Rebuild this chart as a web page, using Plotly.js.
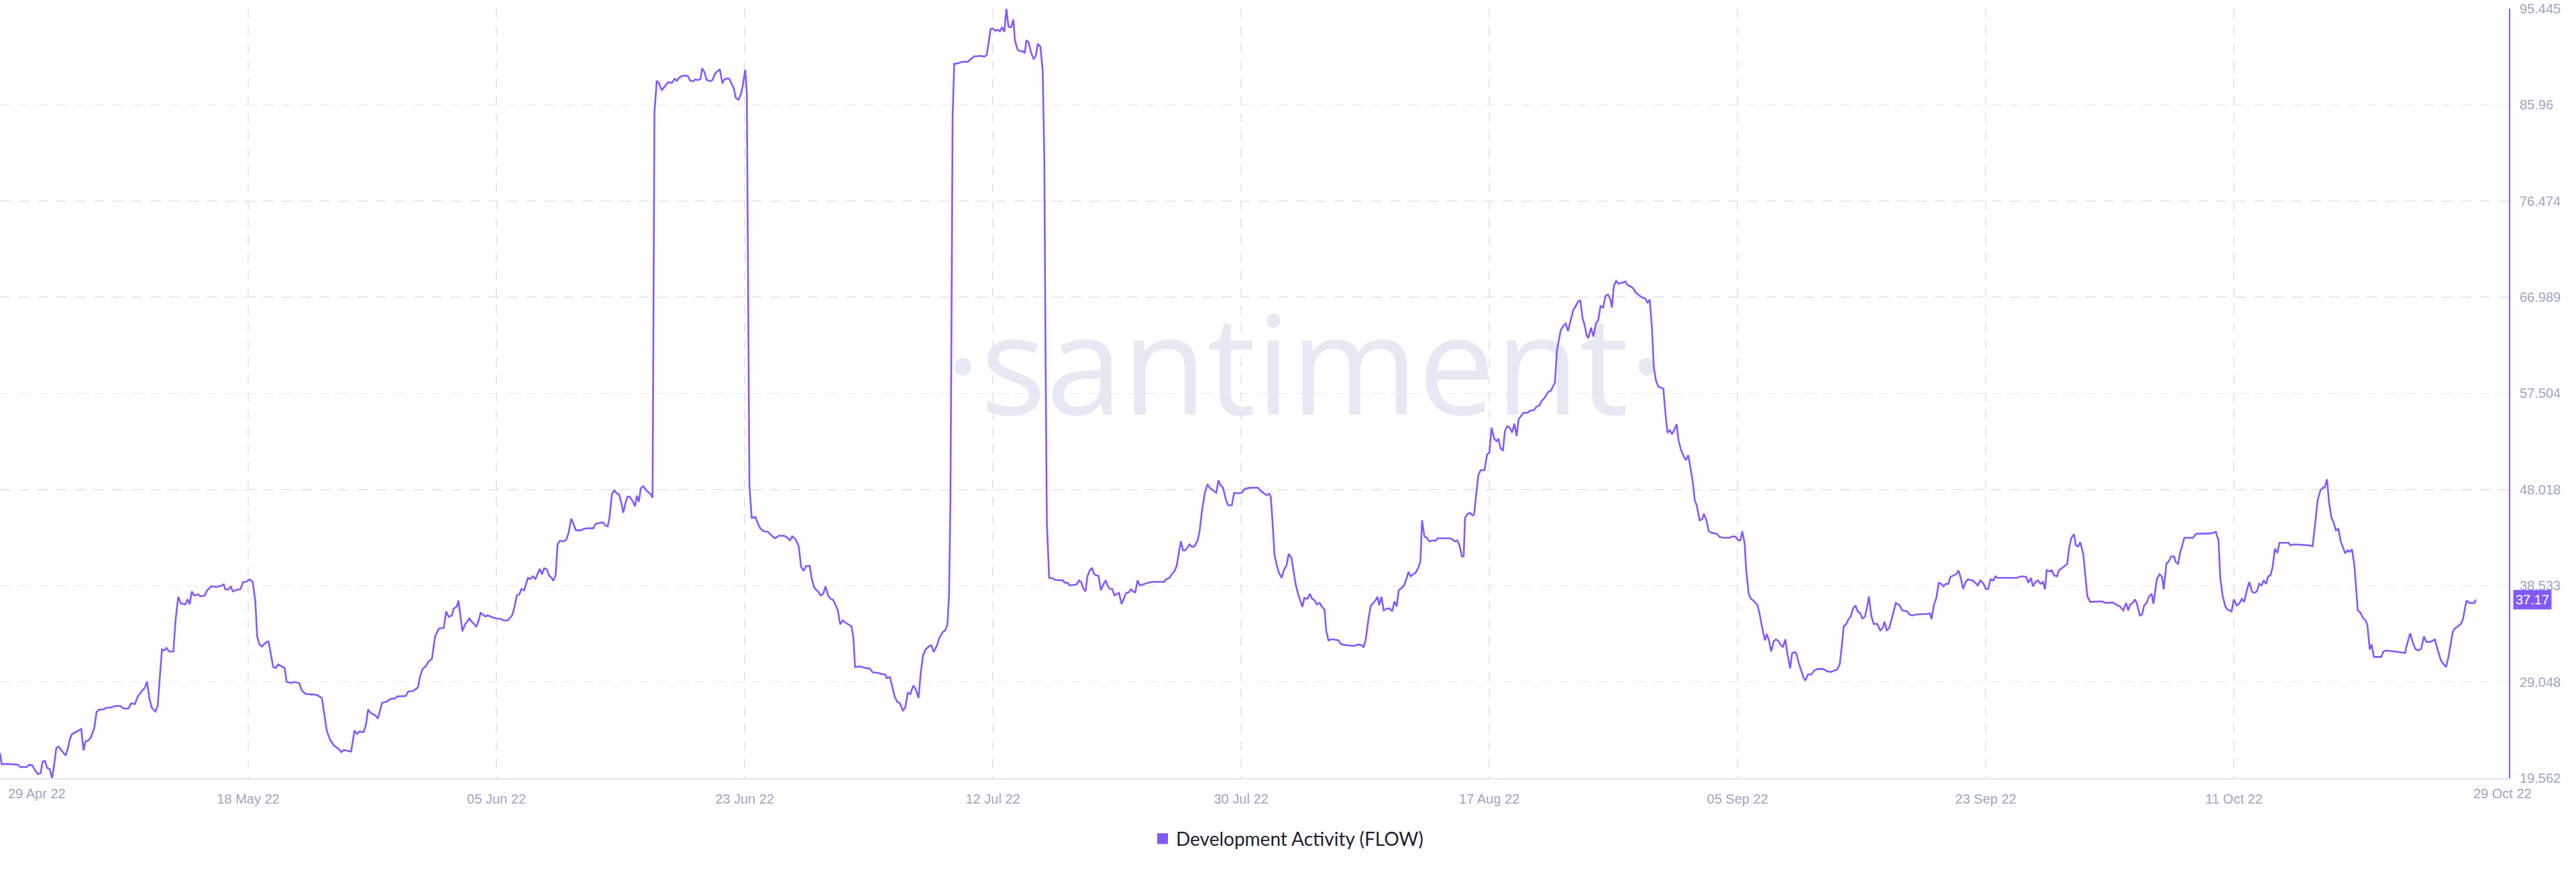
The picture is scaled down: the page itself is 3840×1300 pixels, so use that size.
<!DOCTYPE html>
<html>
<head>
<meta charset="utf-8">
<script src="https://cdn.plot.ly/plotly-3.0.1.min.js"></script>
<style>
  html, body { margin: 0; padding: 0; background: #ffffff; }
  #chart { width: 3840px; height: 1300px; }
</style>
</head>
<body>
<div id="chart"></div>
<script>
// ---------------- DATA ----------------
// Days since 29 Apr 2022 (00:00 UTC)
const dayOffsets = [
  0,0.12,0.72,1.32,1.49,1.97,2.16,2.40,2.59,2.80,3.00,3.14,3.31,3.48,3.67,3.84,3.96,4.15,4.32,4.55,
  4.84,4.99,5.15,5.32,5.63,5.99,6.16,6.30,6.52,6.71,6.95,7.12,7.31,7.62,7.79,8.15,8.51,8.87,9.11,9.47,
  9.66,9.95,10.16,10.43,10.67,10.84,11.03,11.20,11.46,11.63,11.75,11.94,12.11,12.27,12.47,12.78,12.95,13.14,13.33,13.66,
  13.83,13.98,14.14,14.31,14.62,14.79,15.10,15.27,15.58,15.94,16.30,16.49,16.61,16.85,17.02,17.16,17.38,17.74,17.93,18.15,
  18.41,18.63,18.82,18.96,19.13,19.30,19.66,19.80,20.14,20.33,20.50,20.74,20.98,21.14,21.46,21.70,22.06,22.25,22.53,23.01,
  23.37,23.73,24.09,24.33,24.62,24.93,25.17,25.34,25.58,25.89,26.13,26.32,26.49,26.80,26.97,27.14,27.33,27.69,27.86,28.17,
  28.53,28.77,29.13,29.29,29.92,30.09,30.45,30.81,30.97,31.16,31.40,31.60,31.84,32.08,32.36,32.72,32.89,33.08,33.32,33.44,
  33.68,33.80,34.09,34.28,34.52,34.59,34.76,35.12,35.29,35.43,35.77,35.96,36.32,
  36.60,36.96,37.13,37.44,37.75,37.92,38.11,38.28,38.45,38.64,38.92,39.12,39.28,39.48,39.79,39.96,40.12,40.31,40.48,40.67,
  40.79,40.96,41.11,41.27,41.51,41.75,41.92,42.11,42.30,42.47,42.83,43.07,43.31,43.74,43.91,44.27,44.46,44.63,44.80,44.94,
  45.11,45.28,45.47,45.64,45.83,45.95,46.12,46.26,46.43,46.67,46.81,46.96,47.10,47.24,47.44,47.63,47.82,47.99,48.11,48.25,
  48.42,48.59,48.78,49.07,49.26,49.54,49.74,49.90,50.10,50.31,50.70,50.89,51.10,51.27,51.46,51.65,51.75,51.94,52.09,52.37,
  52.54,52.73,53.07,53.26,53.38,53.57,53.76,54.10,54.24,54.44,54.63,54.75,54.94,55.06,55.25,55.42,55.68,55.90,56.07,56.31,
  56.62,56.86,57.14,57.41,57.82,58.10,58.25,58.41,58.65,58.89,59.06,59.25,59.42,59.69,59.85,60.04,60.33,60.50,60.69,60.86,
  61.05,61.24,61.41,61.53,61.77,61.94,62.13,62.37,62.78,62.92,63.04,63.40,63.81,64.12,64.36,64.77,64.94,65.25,65.37,65.61,
  65.80,65.97,66.16,66.33,66.57,66.73,66.93,67.12,67.33,67.52,67.72,67.88,68.05,68.24,68.48,68.67,68.84,69.08,69.25,69.51,
  69.68,69.85,69.97,70.07,70.16,70.23,70.35,70.64,70.93,71.36,71.60,71.84,72.37,72.56,72.75,73.04,
  73.20,73.39,73.56,73.73,73.87,74.04,74.20,74.35,74.54,74.71,74.83,75.02,75.24,75.40,75.55,75.67,75.83,76.03,76.20,76.36,
  76.51,76.70,76.87,76.99,77.08,77.18,77.35,77.63,77.80,78.35,78.52,78.71,78.86,79.38,79.55,79.72,79.86,80.03,80.17,80.34,
  80.51,80.63,80.82,80.99,81.16,81.35,81.52,81.64,81.83,82.00,82.16,82.50,82.69,82.86,83.03,83.22,83.39,83.58,83.70,83.87,
  84.03,84.30,84.59,84.94,85.83,85.95,86.22,86.38,86.58,86.74,86.98,87.06,87.22,87.39,87.70,87.89,88.06,88.30,88.45,88.61,
  88.83,89.02,89.19,89.43,89.67,89.83,89.98,90.17,90.39,90.55,90.82,90.99,91.30,91.54,91.78,92.14,92.74,92.98,93.14,93.38,
  93.57,93.69,93.81,93.96,94.13,94.29,94.49,94.65,94.85,95.01,95.21,95.37,95.54,95.73,96.02,96.16,96.40,96.57,96.74,96.93,
  97.07,97.29,97.46,97.65,97.77,97.94,98.13,98.32,98.68,98.85,99.09,99.81,100.17,100.41,100.53,100.69,100.89,101.06,101.25,101.41,
  101.56,101.68,101.85,102.01,102.21,102.45,102.64,102.81,102.97,103.12,103.29,103.52,103.69,103.84,104.00,104.17,104.36,104.56,104.72,104.84,
  105.01,105.20,105.37,105.68,105.85,105.99,106.88,107.07,107.24,107.43,107.60,107.79,107.91,108.01,108.20,108.37,108.56,108.68,108.85,108.99,
  109.16,109.44,109.64,
  109.80,109.97,110.16,110.33,110.47,110.64,110.81,110.95,111.12,111.31,111.48,111.65,111.81,111.96,112.15,112.32,112.63,112.80,113.08,113.28,
  113.52,113.64,113.83,114.00,114.16,114.31,114.47,114.64,114.79,114.91,115.07,115.24,115.43,115.60,115.79,115.99,116.15,116.32,116.51,116.68,
  116.80,116.99,117.11,117.30,117.47,117.66,117.83,118.00,118.19,118.36,118.55,118.72,118.84,118.98,119.15,119.32,119.63,119.82,119.99,120.23,
  120.42,120.59,120.83,121.07,121.31,121.45,121.62,121.79,121.93,122.10,122.27,122.63,122.79,122.94,123.11,123.27,123.46,123.61,123.75,123.94,
  124.14,124.30,124.47,124.62,124.78,124.95,125.09,125.31,125.50,125.62,125.81,125.98,126.22,126.58,126.77,127.06,127.49,127.78,127.95,128.14,
  128.31,128.45,128.62,128.74,128.93,129.10,129.34,129.58,129.75,129.99,130.13,130.25,130.42,130.58,130.78,130.94,131.14,131.30,131.45,131.62,
  131.78,131.98,132.12,132.33,132.45,132.62,132.81,132.98,133.10,133.29,133.53,133.77,134.01,134.42,134.73,134.97,135.45,135.64,135.81,135.93,
  136.12,136.29,136.46,136.60,136.79,136.96,137.13,137.30,137.49,137.66,137.78,137.97,138.14,138.40,138.62,138.81,138.93,139.10,139.29,139.53,
  139.77,140.05,140.25,140.61,140.77,140.97,141.32,142.04,142.28,142.40,142.59,142.76,142.93,143.12,143.29,143.48,143.65,143.79,144.08,144.25,
  144.39,144.56,144.73,144.92,145.09,145.40,145.64,145.81,146.00,146.24,
  146.40,146.58,146.75,146.96,147.11,147.28,147.79,148.67,149.02,149.38,149.55,149.73,149.88,150.06,150.24,150.44,150.61,150.77,150.89,151.14,
  151.27,151.45,151.65,151.80,152.00,152.25,152.41,152.53,152.71,152.91,153.04,153.21,153.36,153.59,153.77,153.89,154.10,154.98,155.23,155.74,
  155.99,156.29,156.54,156.75,156.90,157.05,157.25,157.40,157.55,157.76,157.93,158.08,158.26,158.44,158.64,158.76,159.02,159.22,159.40,159.52,
  159.72,159.90,160.08,160.28,160.40,160.58,160.73,161.04,161.34,161.67,161.92,162.55,163.05,163.36,163.56,163.69,163.86,164.06,164.22,164.52,
  164.69,164.90,165.07,165.28,165.45,165.65,165.83,166.03,166.21,166.39,166.56,166.74,166.89,167.07,167.22,167.39,167.55,167.72,167.90,168.05,
  168.73,168.86,169.11,170.25,170.50,170.67,170.88,171.08,171.26,171.38,171.56,171.71,171.89,172.06,172.21,172.39,172.57,172.90,173.07,173.22,
  173.40,173.58,173.83,174.03,174.21,174.41,174.54,174.71,174.84,175.02,175.55,175.72,175.92,176.55,177.31,177.44,177.69,177.87,178.07,178.27,
  178.50,178.70,178.88,179.20,179.51,179.71,179.96,180.14,180.34,180.52,180.67,180.84,181.02,181.22,181.42,181.58,181.75,181.85,182.03,182.41,
  182.53
];

const devActivity = [
  22.03,20.94,20.94,20.89,20.65,20.65,20.89,20.79,20.30,19.96,20.05,21.19,21.24,20.55,20.45,19.56,20.55,22.52,22.67,22.28,
  21.78,22.43,23.41,23.91,24.15,24.40,22.28,23.17,23.27,23.61,24.50,26.08,26.33,26.33,26.48,26.52,26.67,26.67,26.43,26.43,
  26.92,26.87,27.61,28.10,28.45,29.09,27.31,26.48,26.13,26.72,28.94,32.25,32.15,32.40,32.05,32.05,35.21,37.44,36.79,36.69,
  37.19,36.69,37.98,37.58,37.68,37.48,37.58,38.08,38.47,38.42,38.52,38.67,38.17,38.17,38.47,37.98,38.08,38.22,38.91,38.91,
  39.16,38.91,37.09,33.53,32.74,32.55,32.99,33.04,30.52,30.42,30.77,30.62,30.42,29.04,28.94,29.04,28.94,28.20,27.86,27.81,
  27.76,27.46,24.25,23.36,22.77,22.47,22.13,22.33,22.28,22.18,24.25,23.91,24.15,24.10,24.75,26.33,25.98,25.73,25.44,26.97,
  27.12,27.36,27.41,27.61,27.66,28.10,28.15,28.50,29.58,30.32,30.62,31.07,31.31,33.53,34.32,34.37,36.00,35.46,35.61,36.25,
  36.49,37.09,34.03,34.72,35.11,35.36,35.01,34.52,35.11,35.85,35.51,35.61,35.41,
  35.31,35.26,35.11,35.11,35.61,36.35,37.58,37.68,38.22,38.08,39.31,39.21,39.46,39.21,40.20,39.66,40.25,40.15,39.56,39.31,
  39.01,39.56,42.62,42.96,42.91,43.06,43.75,45.14,44.59,44.00,44.00,44.15,44.20,44.20,44.64,44.74,44.79,44.49,44.39,45.28,
  47.55,47.95,47.65,47.55,46.57,45.73,46.72,47.31,47.31,46.81,46.37,47.41,46.81,48.15,48.35,47.95,47.75,47.55,47.21,85.23,
  88.34,88.09,87.40,87.84,88.19,88.14,88.53,88.34,88.68,88.83,88.83,88.34,88.29,88.48,88.39,88.53,89.57,89.18,88.43,88.29,
  88.43,89.08,89.47,88.09,88.43,88.58,88.53,87.60,86.66,86.46,87.05,87.79,89.42,87.20,48.44,45.23,45.33,44.59,44.15,43.90,
  43.85,43.51,43.21,43.46,43.46,43.21,43.01,43.41,43.11,42.42,40.40,40.00,40.45,40.50,39.21,38.32,37.93,37.58,37.73,38.47,
  37.58,37.24,37.14,36.84,36.10,34.72,35.11,34.86,34.52,33.38,30.52,30.57,30.42,30.37,29.98,29.93,29.83,29.78,29.43,29.53,
  28.45,27.56,27.06,26.97,26.23,26.48,27.96,27.86,28.70,28.30,27.46,29.93,31.66,32.25,32.55,32.65,32.00,32.65,33.39,33.98,
  34.13,34.72,37.58,46.96,66.71,84.73,90.01,90.06,90.21,90.21,90.51,90.75,90.80,90.71,90.90,93.47,
  93.47,93.27,93.37,93.22,93.62,93.17,95.44,93.67,93.62,94.36,92.29,91.40,91.25,91.25,91.05,92.34,92.14,91.05,90.51,90.75,
  91.99,91.69,89.42,81.03,61.77,44.74,39.31,39.26,39.11,39.06,38.82,38.82,38.57,38.67,39.06,38.86,38.27,37.98,39.46,40.05,
  40.30,39.76,39.56,39.51,38.08,38.67,39.06,38.57,38.22,38.22,37.58,37.83,36.73,37.33,37.83,37.88,38.17,37.93,37.88,39.06,
  38.57,38.67,38.82,38.91,38.91,39.16,39.31,39.66,39.95,40.45,42.42,42.91,42.03,42.03,42.62,42.37,42.42,43.01,44.00,45.88,
  47.70,48.54,48.20,47.95,47.70,48.94,48.44,48.20,46.96,46.47,46.47,47.70,47.65,47.70,48.10,48.20,48.20,47.85,47.70,47.46,
  47.61,47.31,44.99,41.63,40.55,39.81,39.31,40.05,40.55,41.68,41.28,40.05,38.57,37.58,36.45,37.33,37.24,37.73,37.24,37.09,
  36.69,36.84,36.45,36.20,34.14,33.14,33.24,33.24,33.14,32.80,32.70,32.60,32.75,32.65,32.45,33.24,35.26,36.55,36.84,37.09,
  37.44,36.60,37.44,36.10,36.25,36.30,36.00,36.99,36.49,38.08,38.27,38.57,39.21,39.90,39.46,39.66,39.81,40.30,40.94,44.99,
  43.41,43.26,42.91,43.01,42.96,43.21,43.21,43.11,42.91,43.01,42.52,41.40,41.45,45.23,45.63,45.73,45.48,45.58,47.70,49.43,
  49.93,49.93,51.50,
  51.65,54.12,53.03,52.79,53.03,52.05,51.90,53.78,54.27,54.12,53.63,54.52,53.28,54.96,55.26,55.60,55.60,55.80,55.85,56.19,
  56.34,56.74,56.98,57.33,57.68,57.72,58.17,58.57,61.77,62.66,63.75,64.14,64.39,63.65,64.73,65.72,66.07,66.51,66.71,64.88,
  64.39,63.16,63.01,63.99,63.11,64.39,64.73,66.12,65.97,67.11,67.25,66.81,65.97,68.09,68.59,68.34,68.44,68.54,68.19,68.04,
  67.85,67.45,67.20,66.96,66.86,66.42,66.76,63.99,60.05,58.71,58.17,57.97,55.45,53.63,53.87,53.48,53.97,54.47,52.89,51.90,
  51.27,50.92,51.41,50.17,48.94,46.96,46.47,44.99,45.09,45.63,44.99,43.90,43.75,43.65,43.36,43.26,43.26,43.41,43.36,43.01,
  43.01,43.90,42.77,40.05,37.68,37.24,36.99,36.59,35.61,33.88,33.14,33.78,33.14,32.05,33.09,33.24,33.04,32.65,32.50,33.24,
  31.80,30.38,31.86,32.00,31.80,30.87,30.18,29.43,29.19,29.78,29.78,30.18,30.32,30.32,30.08,30.03,30.28,30.82,32.89,34.52,
  34.77,35.26,35.51,36.25,36.59,36.00,35.85,35.31,35.46,36.49,37.48,35.51,34.77,34.77,34.13,34.37,35.01,34.13,34.37,35.61,
  36.84,36.59,36.10,36.00,35.70,35.61,35.70,35.75,35.80,35.26,36.69,37.33,38.81,38.72,38.47,38.72,38.72,39.40,39.56,39.70,
  40.05,39.31,38.22,38.91,39.16,39.06,38.82,38.57,39.06,38.72,
  38.22,38.22,39.16,39.06,39.46,39.31,39.31,39.31,39.46,39.41,38.82,39.31,38.47,38.91,39.06,38.72,38.91,38.17,40.05,39.95,
  40.05,39.56,39.46,40.05,40.25,40.50,40.69,42.12,43.26,43.61,42.52,42.42,42.82,41.68,38.96,37.48,36.94,36.99,36.84,36.89,
  36.69,36.49,36.10,36.84,36.10,36.69,36.84,37.19,36.74,35.61,35.70,36.59,36.84,37.48,37.73,36.74,39.21,39.66,39.41,38.17,
  40.69,40.94,41.43,41.43,40.89,40.69,41.78,43.26,43.26,43.26,43.65,43.70,43.70,43.85,43.01,39.31,37.58,36.49,36.20,36.00,
  37.19,36.59,36.74,37.24,36.94,38.08,38.91,37.93,37.83,37.98,38.72,38.57,39.06,38.72,39.46,39.56,40.40,42.17,41.78,42.77,
  42.77,42.52,42.62,42.52,42.42,44.49,47.06,47.95,48.20,48.20,49.03,46.72,45.23,44.74,44.00,44.15,42.91,41.73,42.03,41.88,
  42.12,40.54,36.10,35.85,35.36,35.11,34.62,32.25,32.75,31.51,31.51,32.05,32.15,32.05,31.90,32.65,33.84,33.00,32.30,32.15,
  32.30,33.53,33.00,33.00,33.24,32.25,31.16,30.82,30.52,31.56,32.65,34.03,34.37,34.52,34.77,35.21,36.45,37.09,36.84,36.84,
  37.17
];

const seriesName = 'Development Activity (FLOW)';
const xTickLabels = ['29 Apr 22','18 May 22','05 Jun 22','23 Jun 22','12 Jul 22','30 Jul 22','17 Aug 22','05 Sep 22','23 Sep 22','11 Oct 22','29 Oct 22'];
const yTickLabels = ['19.562','29.048','38.533','48.018','57.504','66.989','76.474','85.96','95.445'];

// ---------------- BUILD ----------------
const DAY = 864e5;
const START = Date.UTC(2022, 3, 29);
const xDates = dayOffsets.map(d => START + d * DAY);
const yTickVals = yTickLabels.map(Number);

const TICK_STEP = 18.3;            // days between evenly spaced ticks
const X_SPAN = 184.97;             // visible days
const xTickVals = [];
const xTickText = [];
for (let i = 0; i < xTickLabels.length - 1; i++) {
  xTickVals.push(START + i * TICK_STEP * DAY);
  xTickText.push(i === 0 ? '' : xTickLabels[i]);
}

const PURPLE = '#8358ff';
const GRID = '#e4e7f1';
const TICKCOL = '#9ba6c2';
const TICKFONT = { family: 'Liberation Sans, Arial, sans-serif', size: 20, color: TICKCOL };

const traces = [
  {
    x: xDates, y: devActivity, type: 'scatter', mode: 'lines',
    line: { color: PURPLE, width: 2.6 }, showlegend: false, hoverinfo: 'x+y'
  },
  {
    x: [null], y: [null], type: 'scatter', mode: 'markers', name: seriesName,
    marker: { symbol: 'square', size: 18, color: PURPLE }, showlegend: true
  }
];

const lastVal = devActivity[devActivity.length - 1];

const layout = {
  width: 3840, height: 1300,
  paper_bgcolor: '#ffffff', plot_bgcolor: '#ffffff',
  margin: { l: 0, r: 100, t: 13, b: 140, pad: 0 },
  xaxis: {
    type: 'date',
    range: [START, START + X_SPAN * DAY],
    tickmode: 'array', tickvals: xTickVals, ticktext: xTickText,
    showgrid: true, gridcolor: GRID, gridwidth: 1.5, griddash: '14px,12px',
    showline: true, linecolor: '#e1e5ef', linewidth: 2,
    ticks: '', tickfont: TICKFONT, ticklabelstandoff: 12,
    zeroline: false, fixedrange: true
  },
  yaxis: {
    side: 'right',
    range: [yTickVals[0], yTickVals[yTickVals.length - 1]],
    tickmode: 'array', tickvals: yTickVals, ticktext: yTickLabels,
    showgrid: true, gridcolor: GRID, gridwidth: 1.5, griddash: '16px,12px',
    showline: true, linecolor: PURPLE, linewidth: 2,
    ticks: '', tickfont: TICKFONT, ticklabelstandoff: 10,
    zeroline: false, fixedrange: true
  },
  showlegend: true,
  legend: {
    orientation: 'h', xref: 'container', yref: 'container',
    x: 0.5, xanchor: 'center', y: 0.038, yanchor: 'middle',
    font: { family: 'Lato, sans-serif', size: 28, color: '#1c1e2d' },
    bgcolor: 'rgba(0,0,0,0)', itemclick: false
  },
  shapes: [
    {
      type: 'rect', xref: 'paper', yref: 'paper',
      x0: 0.30, x1: 0.74, y0: 0.40, y1: 0.66,
      line: { width: 0 }, fillcolor: 'rgba(0,0,0,0)', layer: 'between',
      label: {
        text: '·santiment·', textposition: 'middle center',
        font: { family: 'Open Sans, sans-serif', size: 205, color: '#e6e9f3' }
      }
    }
  ],
  annotations: [
    {
      xref: 'x', yref: 'paper', x: xTickVals[0], y: 0,
      text: xTickLabels[0], showarrow: false, xanchor: 'left', yanchor: 'middle',
      xshift: 10, yshift: -23, font: TICKFONT
    },
    {
      xref: 'x', yref: 'paper', x: START + (xTickLabels.length - 1) * TICK_STEP * DAY, y: 0,
      text: xTickLabels[xTickLabels.length - 1], showarrow: false, xanchor: 'center', yanchor: 'middle',
      xshift: 30, yshift: -23, font: TICKFONT
    },
    {
      xref: 'paper', yref: 'y', x: 1, y: lastVal,
      text: lastVal.toFixed(2), showarrow: false, xanchor: 'left', yanchor: 'middle',
      xshift: 6, bgcolor: PURPLE, borderpad: 3,
      font: { family: 'Liberation Sans, Arial, sans-serif', size: 20, color: '#ffffff' }
    }
  ]
};

Plotly.newPlot('chart', traces, layout, { displayModeBar: false, staticPlot: true });
</script>
</body>
</html>
